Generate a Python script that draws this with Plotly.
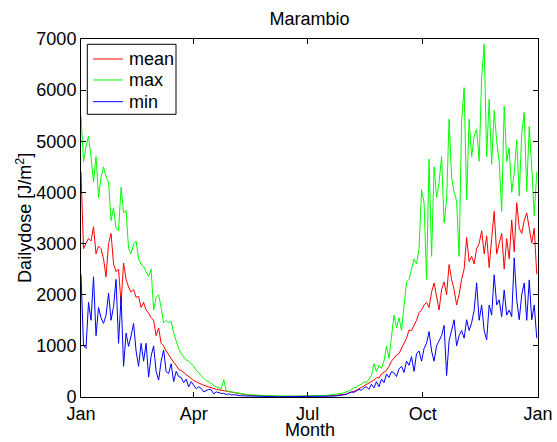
"""Marambio daily UV dose: mean / max / min per day of year."""
import pandas as pd
import plotly.graph_objects as go

# one value every second day, Jan 1 .. Dec 31
dates = pd.date_range("2001-01-01", periods=183, freq="2D")

dose_max = [
    5500, 4600, 4900, 5100, 4700, 4200, 4700, 3900, 4300, 4500,
    4300, 4200, 3450, 3700, 3300, 3250, 4100, 3600, 3650, 2900,
    2800, 3000, 3050, 2700, 2600, 2550, 2450, 2350, 2500, 1700,
    1950, 2000, 1750, 1450, 1500, 1450, 1480, 1250, 1100, 950,
    850, 780, 720, 700, 650, 600, 520, 480, 420, 360,
    320, 300, 260, 230, 200, 180, 160, 340, 120, 110,
    100, 90, 80, 70, 60, 55, 50, 45, 40, 35,
    32, 30, 28, 26, 25, 24, 22, 20, 20, 18,
    18, 18, 17, 17, 17, 17, 17, 17, 18, 18,
    18, 19, 20, 20, 22, 24, 26, 28, 32, 36,
    40, 45, 50, 60, 70, 85, 100, 120, 150, 180,
    190, 230, 250, 300, 280, 350, 420, 650, 500, 620,
    560, 700, 1000, 760, 1200, 1600, 1350, 1550, 1300, 1800,
    2250, 2300, 2500, 2700, 2600, 2900, 4050, 3800, 2300, 4650,
    2750, 4500, 3900, 4200, 4700, 3400, 3850, 5430, 4300, 4000,
    3830, 2750, 5400, 6050, 3860, 5430, 4700, 5100, 5240, 4610,
    6250, 6900, 4700, 5820, 4550, 5600, 5000, 4600, 3630, 5690,
    4600, 4870, 4000, 4380, 5030, 3930, 5160, 5560, 4020, 5290,
    4500, 3540, 4400,
]

dose_mean = [
    4400, 2900, 3000, 3100, 3050, 3330, 2800, 2950, 2900, 2700,
    2350, 3000, 3200, 2600, 2450, 2500, 1830, 2620, 2300, 2150,
    2050, 2100, 1950, 1970, 1750, 1850, 1700, 1640, 1550, 1500,
    1200, 1350, 1050, 1000, 900, 820, 750, 680, 620, 540,
    520, 480, 430, 400, 360, 320, 300, 270, 250, 230,
    210, 195, 180, 165, 150, 140, 130, 120, 110, 100,
    90, 80, 70, 60, 52, 45, 40, 35, 30, 27,
    24, 22, 20, 18, 16, 15, 14, 13, 12, 12,
    11, 11, 10, 10, 10, 10, 10, 10, 11, 11,
    11, 12, 12, 13, 14, 15, 16, 18, 20, 22,
    25, 28, 32, 37, 42, 50, 60, 75, 90, 110,
    130, 160, 190, 220, 250, 280, 310, 330, 380, 370,
    450, 480, 520, 600, 700, 760, 820, 850, 950, 1050,
    1150, 1310, 1300, 1400, 1500, 1650, 1700, 1800, 1850, 1750,
    2050, 2230, 1950, 1700, 2100, 2250, 2000, 2590, 2300, 2100,
    1800, 2000, 2300, 2500, 3120, 2650, 2750, 2600, 2900, 3000,
    3250, 2800, 3150, 2530, 3100, 3630, 2800, 3000, 3200, 2500,
    3100, 2700, 3460, 2840, 3800, 3300, 3200, 3450, 3600, 3300,
    3010, 3300, 2400,
]

dose_min = [
    2400, 1000, 950, 1850, 1500, 2350, 1200, 1750, 1550, 1440,
    1600, 2030, 1500, 1770, 2300, 1050, 1960, 600, 1250, 990,
    1200, 1440, 900, 600, 1050, 700, 1050, 390, 800, 1000,
    500, 330, 700, 920, 500, 460, 650, 300, 500, 400,
    380, 280, 350, 200, 300, 220, 160, 200, 170, 100,
    130, 150, 140, 60, 100, 80, 70, 70, 50, 60,
    40, 45, 35, 30, 25, 22, 20, 18, 15, 13,
    12, 10, 9, 8, 7, 7, 6, 6, 5, 5,
    5, 5, 5, 5, 5, 5, 5, 5, 5, 5,
    5, 5, 5, 6, 6, 7, 8, 9, 10, 12,
    15, 18, 22, 27, 32, 40, 50, 80, 100, 90,
    120, 150, 130, 180, 200, 150, 250, 180, 300, 200,
    350, 280, 450, 380, 500, 470, 400, 550, 600, 480,
    700, 620, 790, 500, 850, 900, 700, 950, 1050, 1280,
    900, 700, 1000, 1100, 1200, 1400, 420, 1100, 1300, 1510,
    1000, 1200, 1300, 1150, 1510, 1300, 1450, 1700, 2230, 1500,
    1800, 1300, 1120, 1800, 1600, 2390, 1800, 1900, 1570, 2090,
    1600, 1700, 1570, 2720, 1900, 1510, 2000, 2230, 1500, 2290,
    1510, 1800, 1150,
]

month_ticks = ["2001-01-01", "2001-04-01", "2001-07-01", "2001-10-01", "2002-01-01"]
month_labels = ["Jan", "Apr", "Jul", "Oct", "Jan"]

series = [
    ("mean", dose_mean, "#ff0000"),
    ("max", dose_max, "#00ff00"),
    ("min", dose_min, "#0000ff"),
]

FONT = "Liberation Sans, Arial, sans-serif"
FS = 18

fig = go.Figure()
for name, vals, color in series:
    fig.add_trace(go.Scatter(
        x=dates, y=vals, name=name, mode="lines",
        line=dict(color=color, width=1), showlegend=False,
    ))

axis_common = dict(
    showline=True, linecolor="black", linewidth=1, mirror="ticks",
    ticks="inside", ticklen=5, tickcolor="black", showgrid=False,
    zeroline=False, automargin=False,
    tickfont=dict(size=FS, color="black"),
)
fig.update_xaxes(
    range=["2001-01-01", "2002-01-01"], tickvals=month_ticks,
    ticktext=month_labels, **axis_common,
)
fig.update_yaxes(range=[0, 7000], dtick=1000, tickformat="d", **axis_common)

# axis titles as annotations so they sit where MATLAB puts them
fig.add_annotation(
    text="Month", xref="paper", yref="paper", x=0.501, y=-0.093,
    xanchor="center", yanchor="middle", showarrow=False,
    font=dict(size=FS, color="black"),
)
fig.add_annotation(
    text="Dailydose [J/m<sup>2</sup>]", xref="paper", yref="paper",
    x=-0.125, y=0.5, textangle=-90, xanchor="center", yanchor="middle",
    showarrow=False, font=dict(size=FS, color="black"),
)

# boxed legend, top-left inside the axes
fig.add_shape(
    type="rect", xref="paper", yref="paper",
    x0=0.0138, x1=0.2079, y0=0.7897, y1=0.9852,
    line=dict(color="black", width=1), fillcolor="white", layer="above",
)
row_y = [0.9441, 0.8855, 0.8249]
for (name, _, color), ry in zip(series, row_y):
    fig.add_shape(
        type="line", xref="paper", yref="paper",
        x0=0.0263, x1=0.0919, y0=ry, y1=ry,
        line=dict(color=color, width=1), layer="above",
    )
    fig.add_annotation(
        text=name, xref="paper", yref="paper", x=0.1007, y=ry,
        xanchor="left", yanchor="middle", showarrow=False,
        font=dict(size=FS, color="black"),
    )

fig.update_layout(
    width=557, height=442,
    margin=dict(l=81, r=19, t=39, b=45),
    paper_bgcolor="white", plot_bgcolor="white",
    font=dict(family=FONT, color="black"),
    title=dict(text="Marambio", x=0.5, xref="paper",
               y=1 - 18.5 / 442, yanchor="middle",
               font=dict(size=FS, color="black")),
    showlegend=False,
)

# drop the default 8px body margin so the 557x442 figure fills the window
fig.write_html(
    "out.html",
    config={"displayModeBar": False},
    post_script="document.body.style.margin='0';"
                "document.body.style.overflow='hidden';",
)
